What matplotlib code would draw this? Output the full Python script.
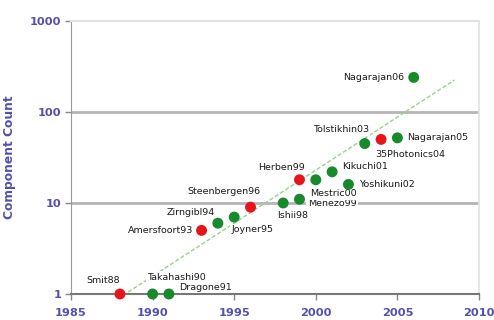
import numpy as np
import matplotlib
matplotlib.use("Agg")
import matplotlib.pyplot as plt

# Device records: name, year, component count, highlighted (red) or not
names = ["Smit88", "Takahashi90", "Dragone91", "Amersfoort93", "Zirngibl94",
         "Joyner95", "Steenbergen96", "Ishii98", "Menezo99", "Herben99",
         "Mestric00", "Kikuchi01", "Yoshikuni02", "Tolstikhin03",
         "35Photonics04", "Nagarajan05", "Nagarajan06"]
years = [1988, 1990, 1991, 1993, 1994, 1995, 1996, 1998, 1999, 1999,
         2000, 2001, 2002, 2003, 2004, 2005, 2006]
counts = [1, 1, 1, 5, 6, 7, 9, 10, 11, 18, 18, 22, 16, 45, 50, 52, 240]
red = [True, False, False, True, False, False, True, False, False, True,
       False, False, False, False, True, False, False]

# exponential trend: end points of the growth line
trend_years = [1988.5, 2008.5]
trend_counts = [1.05, 225]

x_ticks = [1985, 1990, 1995, 2000, 2005, 2010]
y_ticks = [1, 10, 100, 1000]

# label placement: (dx, dy) in points, horizontal alignment
label_pos = {
    "Smit88": (0, 10, "right"),
    "Takahashi90": (-4, 12, "left"),
    "Dragone91": (7, 5, "left"),
    "Amersfoort93": (-6, 0, "right"),
    "Zirngibl94": (-2, 8, "right"),
    "Joyner95": (-2, -9, "left"),
    "Steenbergen96": (-19, 11, "center"),
    "Ishii98": (-4, -9, "left"),
    "Menezo99": (6, -3, "left"),
    "Herben99": (4, 9, "right"),
    "Mestric00": (-4, -10, "left"),
    "Kikuchi01": (7, 4, "left"),
    "Yoshikuni02": (8, 0, "left"),
    "Tolstikhin03": (3, 10, "right"),
    "35Photonics04": (-4, -11, "left"),
    "Nagarajan05": (7, 0, "left"),
    "Nagarajan06": (-7, 0, "right"),
}

tick_color = "#5550ad"
grid_color = "#b5b5b5"

fig = plt.figure(figsize=(4.94, 3.2), dpi=100)
ax = fig.add_axes([71 / 494, 1 - 294 / 320, 408 / 494, 273 / 320])
ax.set_yscale("log")
ax.set_xlim(1985, 2010)
ax.set_ylim(1, 1000)

# horizontal gridlines
for v in [10, 100]:
    ax.axhline(v, color=grid_color, lw=2.0, zorder=1)

# growth trend (exponential, straight on the log axis)
ty = np.log10(trend_counts)
tx = np.linspace(trend_years[0], trend_years[1], 50)
ax.plot(tx, 10 ** np.interp(tx, trend_years, ty), color="#9ccf8c", lw=1.0,
        ls=(0, (3, 1.5)), zorder=2)

colors = ["#e8141c" if r else "#178a2c" for r in red]
ax.scatter(years, counts, s=62, c=colors, edgecolors="none", zorder=4,
           clip_on=False)

for n, xv, yv in zip(names, years, counts):
    dx, dy, ha = label_pos[n]
    ax.annotate(n, (xv, yv), xytext=(dx, dy), textcoords="offset points",
                ha=ha, va="center", fontsize=6.8, family="DejaVu Sans",
                color="#1a1a1a", zorder=3,
                bbox=dict(boxstyle="square,pad=0.15", fc="white", ec="none"))

ax.set_xticks(x_ticks)
ax.set_xticklabels([str(t) for t in x_ticks])
ax.set_yticks(y_ticks)
ax.set_yticklabels([str(t) for t in y_ticks])
ax.yaxis.set_minor_locator(matplotlib.ticker.NullLocator())
ax.tick_params(axis="both", colors="#888888", length=4, width=1,
               direction="out", labelcolor=tick_color, labelsize=8.2)
for lab in ax.get_xticklabels() + ax.get_yticklabels():
    lab.set_fontweight("bold")
ax.tick_params(axis="x", pad=6)
ax.tick_params(axis="y", pad=3)

ax.spines["left"].set_color("#999999")
ax.spines["bottom"].set_color("#777777")
ax.spines["bottom"].set_linewidth(1.5)
ax.spines["top"].set_color("#e2e2e2")
ax.spines["right"].set_color("#e2e2e2")
ax.spines["top"].set_linewidth(1.5)
ax.spines["right"].set_linewidth(1.2)

ax.set_ylabel("Component Count", color=tick_color, fontsize=8.8,
              fontweight="bold")
ax.yaxis.set_label_coords(-0.135, 0.5)

fig.savefig("out.png", dpi=100)
